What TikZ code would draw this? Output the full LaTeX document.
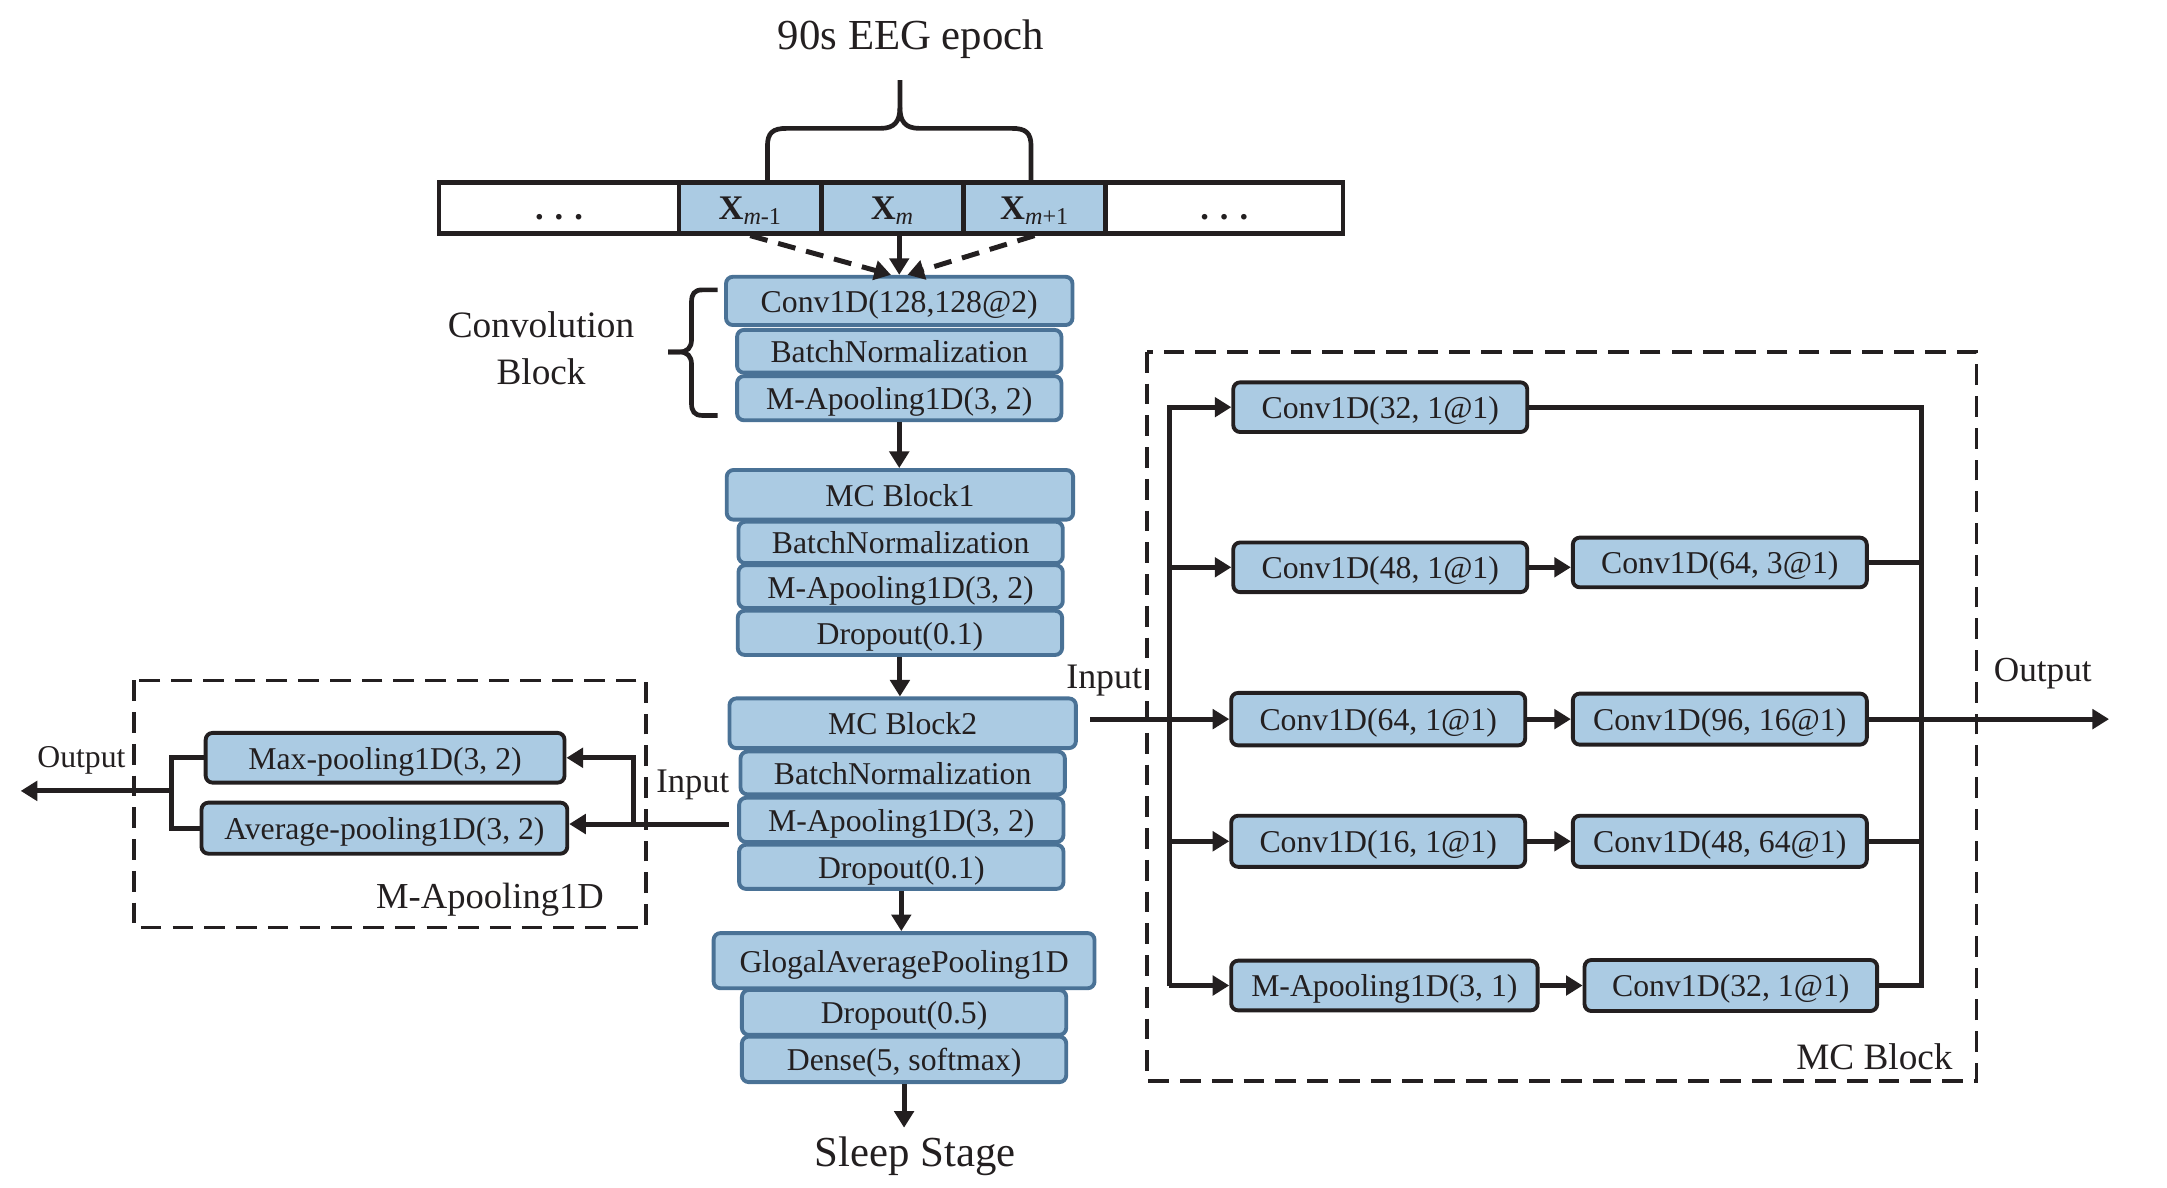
\documentclass[tikz,border=0pt]{standalone}
\usepackage{fontspec}
\setmainfont{Liberation Serif}
\usetikzlibrary{arrows.meta,calc}
\definecolor{bfill}{HTML}{ABCBE3}
\definecolor{bedge}{HTML}{4A7296}
\definecolor{ink}{HTML}{231F20}
\begin{document}
\begin{tikzpicture}[x=1pt,y=-1pt,
  box/.style={draw=bedge, fill=bfill, line width=2.8pt, rounded corners=5pt, inner sep=0pt,
    text height=16.5pt, text depth=0pt, font=\fontsize{23}{23}\selectfont, text=ink},
  mbox/.style={box, draw=ink},
  cell/.style={draw=ink, line width=3.4pt, inner sep=0pt, minimum height=37,
    text height=17pt, text depth=0pt, font=\fontsize{25}{25}\selectfont, text=ink},
  ln/.style={draw=ink, line width=3.6pt},
  arr/.style={ln, -{Triangle[length=12pt,width=14pt]}},
  darr/.style={arr, dash pattern=on 13pt off 8pt},
  dsh/.style={draw=ink, line width=2.8pt, dash pattern=on 15pt off 8pt},
  lbl/.style={inner sep=0pt, text=ink, anchor=base}
]
\useasboundingbox (0,0) rectangle (1570,860);

% title and brace
\node[lbl, font=\fontsize{31}{31}\selectfont] (title) at (660,36) {90s EEG epoch};
\draw[ln, line width=3.4pt] (556,131) -- (556,106) .. controls (556,96) and (560,93) .. (570,93) -- (638,93) .. controls (648,93) and (652,88) .. (652,78) -- (652,58);
\draw[ln, line width=3.4pt] (652,78) .. controls (652,88) and (656,93) .. (666,93) -- (733,93) .. controls (743,93) and (747,96) .. (747,106) -- (747,131);

% strip
\node[cell, fill=white, minimum width=174] (s0) at (405,150.5) {\textbf{.\hspace{8pt}.\hspace{8pt}.}};
\node[cell, fill=bfill, minimum width=103] (s1) at (543.5,150.5) {\textbf{X}\textsubscript{\textit{m}-1}};
\node[cell, fill=bfill, minimum width=103] (s2) at (646.5,150.5) {\textbf{X}\textsubscript{\textit{m}}};
\node[cell, fill=bfill, minimum width=103] (s3) at (749.5,150.5) {\textbf{X}\textsubscript{\textit{m}+1}};
\node[cell, fill=white, minimum width=172] (s4) at (887,150.5) {\textbf{.\hspace{8pt}.\hspace{8pt}.}};

% convolution block
\node[box, minimum width=251, minimum height=35] (c1) at (651.5,218) {Conv1D(128,128@2)};
\node[box, minimum width=235, minimum height=31] (c2) at (651.5,254.5) {BatchNormalization};
\node[box, minimum width=235, minimum height=32] (c3) at (651.5,288.5) {M-Apooling1D(3, 2)};

\draw[darr] (s1.south) -- ($(c1.north)+(-6,0)$);
\draw[arr] (s2.south -| c1.north) -- (c1.north);
\draw[darr] (s3.south) -- ($(c1.north)+(6,0)$);

\node[inner sep=0pt, align=center, text=ink, font=\fontsize{27}{34}\selectfont] (cb) at (392,252) {Convolution\\Block};
\draw[ln, line width=3.4pt] (520,210) -- (509,210) .. controls (503,210) and (501,213) .. (501,219) -- (501,246) .. controls (501,252) and (498,255) .. (492,255) -- (484,255);
\draw[ln, line width=3.4pt] (484,255) -- (492,255) .. controls (498,255) and (501,258) .. (501,264) -- (501,292) .. controls (501,298) and (503,301) .. (509,301) -- (520,301);

% MC block 1
\node[box, minimum width=251, minimum height=36] (m1) at (652,358.5) {MC Block1};
\node[box, minimum width=235, minimum height=30] (m1b) at (652.5,393) {BatchNormalization};
\node[box, minimum width=235, minimum height=31] (m1c) at (652.5,425) {M-Apooling1D(3, 2)};
\node[box, minimum width=235, minimum height=32] (m1d) at (652,458.5) {Dropout(0.1)};
\draw[arr] (c3.south) -- (c3.south |- m1.north);

% MC block 2
\node[box, minimum width=251, minimum height=36] (m2) at (654,524) {MC Block2};
\node[box, minimum width=235, minimum height=31] (m2b) at (654,560) {BatchNormalization};
\node[box, minimum width=235, minimum height=32] (m2c) at (653,594) {M-Apooling1D(3, 2)};
\node[box, minimum width=235, minimum height=32] (m2d) at (653,628) {Dropout(0.1)};
\draw[arr] (m1d.south) -- (m1d.south |- m2.north);

% output head
\node[box, minimum width=276, minimum height=40] (g1) at (655,696) {GlogalAveragePooling1D};
\node[box, minimum width=235, minimum height=32.5] (g2) at (655,733.5) {Dropout(0.5)};
\node[box, minimum width=235, minimum height=33] (g3) at (655,767.5) {Dense(5, softmax)};
\draw[arr] (m2d.south) -- (m2d.south |- g1.north);
\node[lbl, font=\fontsize{31}{31}\selectfont] (sleep) at (663,845) {Sleep Stage};
\coordinate (sleepTop) at (655,817);
\draw[arr] (g3.south) -- (g3.south |- sleepTop);

% M-Apooling1D detail
\draw[dsh] (97,493) rectangle (468,672);
\node[mbox, minimum width=260, minimum height=36] (max) at (279,549) {Max-pooling1D(3, 2)};
\node[mbox, minimum width=265, minimum height=37] (avg) at (278.5,600) {Average-pooling1D(3, 2)};
\coordinate (inL) at (528,597);
\coordinate (brL) at (459,597);
\draw[arr] (inL) -- (inL -| avg.east);
\draw[arr] (brL) -- (brL |- max.east) -- (max.east);
\coordinate (ob) at (124,573);
\coordinate (outL) at (15,573);
\draw[ln] (max.west) -- (max.west -| ob) -- (ob |- avg.west) -- (avg.west);
\draw[arr] (ob) -- (outL);
\node[lbl, font=\fontsize{25}{25}\selectfont] (inLl) at (502,574) {Input};
\node[lbl, font=\fontsize{23}{23}\selectfont] (outLl) at (59,556) {Output};
\node[lbl, font=\fontsize{26.5}{26.5}\selectfont] (mapl) at (355,658) {M-Apooling1D};

% MC block detail
\draw[dsh] (831,255) rectangle (1432,783);
\node[mbox, minimum width=213, minimum height=36] (r1a) at (1000,295) {Conv1D(32, 1@1)};
\node[mbox, minimum width=213, minimum height=36] (r2a) at (1000,411) {Conv1D(48, 1@1)};
\node[mbox, minimum width=213, minimum height=36] (r2b) at (1246,407.5) {Conv1D(64, 3@1)};
\node[mbox, minimum width=213, minimum height=38] (r3a) at (998.5,521) {Conv1D(64, 1@1)};
\node[mbox, minimum width=213, minimum height=37] (r3b) at (1246,521) {Conv1D(96, 16@1)};
\node[mbox, minimum width=213, minimum height=37] (r4a) at (998.5,609.5) {Conv1D(16, 1@1)};
\node[mbox, minimum width=213, minimum height=37] (r4b) at (1246,609.5) {Conv1D(48, 64@1)};
\node[mbox, minimum width=222, minimum height=36] (r5a) at (1003,714) {M-Apooling1D(3, 1)};
\node[mbox, minimum width=212, minimum height=37] (r5b) at (1254,714) {Conv1D(32, 1@1)};

\coordinate (LB) at (847,521);
\coordinate (RB) at (1392,521);
\draw[arr] (LB |- r5a.west) -- (LB |- r1a.west) -- (r1a.west);
\draw[arr] (LB |- r2a.west) -- (r2a.west);
\draw[arr] (LB |- r4a.west) -- (r4a.west);
\draw[arr] (LB |- r5a.west) -- (r5a.west);
\coordinate (inR) at (790,521);
\draw[arr] (inR) -- (inR -| r3a.west);
\draw[arr] (r2a.east) -- (r2a.east -| r2b.west);
\draw[arr] (r3a.east) -- (r3a.east -| r3b.west);
\draw[arr] (r4a.east) -- (r4a.east -| r4b.west);
\draw[arr] (r5a.east) -- (r5a.east -| r5b.west);
\draw[ln] (r1a.east) -- (RB |- r1a.east) -- (RB |- r5b.east) -- (r5b.east);
\draw[ln] (r2b.east) -- (RB |- r2b.east);
\draw[ln] (r4b.east) -- (RB |- r4b.east);
\coordinate (outR) at (1528,521);
\draw[arr] (r3b.east) -- (outR);
\node[lbl, font=\fontsize{26}{26}\selectfont] (inRl) at (800,499) {Input};
\node[lbl, font=\fontsize{25.5}{25.5}\selectfont] (outRl) at (1480,494) {Output};
\node[lbl, font=\fontsize{27}{27}\selectfont] (mcl) at (1358,775) {MC Block};
\end{tikzpicture}
\end{document}
